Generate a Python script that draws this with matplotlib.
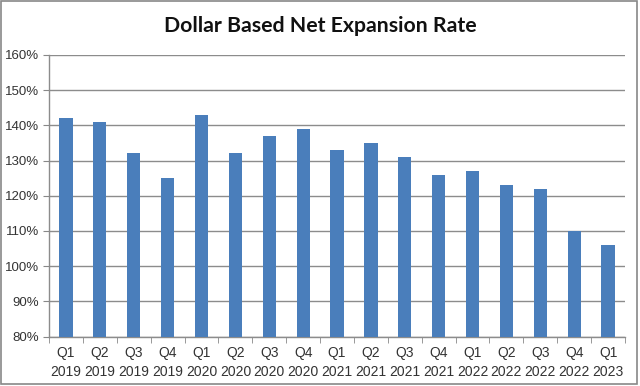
import matplotlib
matplotlib.use("Agg")
import matplotlib.pyplot as plt
from matplotlib.patches import Rectangle
from matplotlib.ticker import FixedLocator, NullFormatter

categories = ["Q1\n2019", "Q2\n2019", "Q3\n2019", "Q4\n2019",
              "Q1\n2020", "Q2\n2020", "Q3\n2020", "Q4\n2020",
              "Q1\n2021", "Q2\n2021", "Q3\n2021", "Q4\n2021",
              "Q1\n2022", "Q2\n2022", "Q3\n2022", "Q4\n2022",
              "Q1\n2023"]
values = [142, 141, 132, 125, 143, 132, 137, 139, 133, 135, 131, 126,
          127, 123, 122, 110, 106]
yticks = [80, 90, 100, 110, 120, 130, 140, 150, 160]
ytick_labels = ["80%", "90%", "100%", "110%", "120%", "130%", "140%", "150%", "160%"]
title = "Dollar Based Net Expansion Rate"

fig = plt.figure(figsize=(6.4, 3.86), dpi=100)
ax = fig.add_axes([0.0766, 0.1277, 0.9, 0.7303])

x = list(range(len(categories)))
ax.bar(x, [v - 80 for v in values], bottom=80, width=0.39, color="#4A7EBB", zorder=3)

ax.set_xlim(-0.5, len(categories) - 0.5)
ax.set_ylim(80, 160)
ax.set_yticks(yticks)
ax.set_yticklabels(ytick_labels)
ax.set_xticks(x)
ax.set_xticklabels(categories, linespacing=1.45)
ax.xaxis.set_minor_locator(FixedLocator([i - 0.5 for i in range(len(categories) + 1)]))
ax.xaxis.set_minor_formatter(NullFormatter())
ax.tick_params(axis="x", which="major", length=0, pad=7, labelsize=10, colors="#333333")
ax.tick_params(axis="x", which="minor", length=4, color="#888888", direction="out")
ax.tick_params(axis="y", length=4, color="#888888", direction="out", labelsize=9.5,
               colors="#333333", pad=3)
ax.tick_params(axis="y", colors="#888888", labelcolor="#333333")

ax.grid(axis="y", color="#8c8c8c", linewidth=1.0, zorder=0)
for s in ["top", "right"]:
    ax.spines[s].set_visible(False)
for s in ["left", "bottom"]:
    ax.spines[s].set_color("#8c8c8c")
    ax.spines[s].set_linewidth(1.0)

for lab in ax.get_xticklabels() + ax.get_yticklabels():
    lab.set_fontfamily(["Liberation Sans", "DejaVu Sans"])

fig.text(0.5, 0.933, title, ha="center", va="center", fontsize=15.3,
         fontweight="bold", family=["Lato", "DejaVu Sans"], color="#111111")

fig.patches.append(Rectangle((0.002, 0.004), 0.994, 0.993, transform=fig.transFigure,
                             fill=False, edgecolor="#888888", linewidth=1.2))

fig.savefig("out.png", dpi=100)
